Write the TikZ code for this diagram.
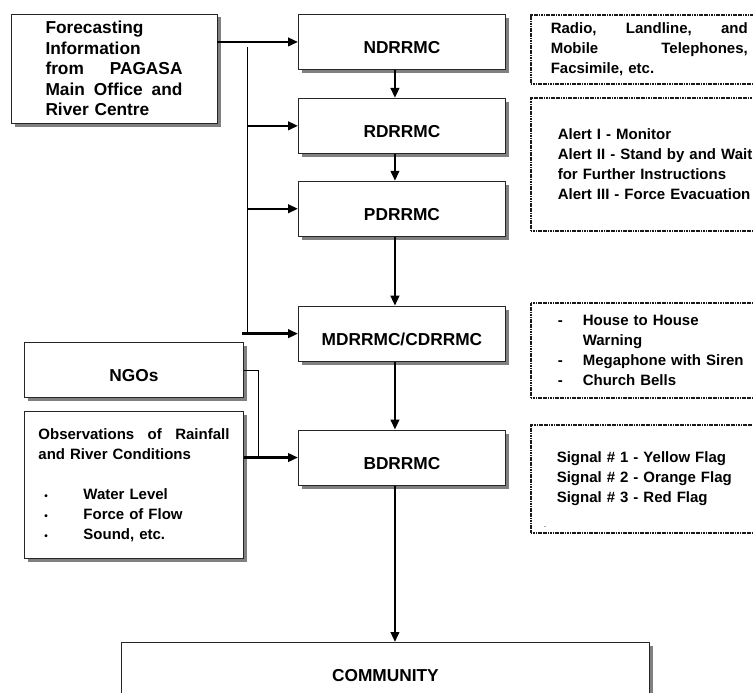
\documentclass[tikz,border=0pt]{standalone}
\usepackage{fontspec}
\setmainfont{Liberation Sans}
\usepackage{tikz}
\usetikzlibrary{positioning}
\usetikzlibrary{shadows}
\usetikzlibrary{arrows.meta}

\newcommand{\bigtxt}{\fontsize{17.3}{20.5}\selectfont\bfseries}
\newcommand{\smalltxt}{\fontsize{15}{20}\selectfont\bfseries}
\newcommand{\blt}{\makebox[39pt][l]{\fontsize{10}{10}\selectfont\textbullet}}

\begin{document}
\begin{tikzpicture}[x=1pt,y=-1pt,>={Triangle[length=10pt,width=8.5pt]},node distance=28pt,
                    box node/.style={rectangle,draw=black!85,line width=0.9pt,fill=white,
                      drop shadow={shadow xshift=3.5pt,shadow yshift=-3.5pt,fill=black!50,opacity=1}},
                    main node/.style={box node,minimum width=207pt,minimum height=55pt,inner sep=0pt,
                      text height=24pt,text depth=0pt,font=\bigtxt},
                    info node/.style={rectangle,draw=black!90,line width=1.6pt,dash pattern=on 1.2pt off 0.5pt,
                      anchor=north west,align=left,inner ysep=0pt,font=\smalltxt},
                    arr/.style={->,line width=2.4pt}]
  \useasboundingbox (0,0) rectangle (753,693);

  % centre column
  \node[main node,anchor=north west] (nd) at (298,14) {NDRRMC};
  \node[main node] (rd) [below=of nd] {RDRRMC};
  \node[main node] (pd) [below=27pt of rd] {PDRRMC};
  \node[main node] (md) [below=69pt of pd] {MDRRMC/CDRRMC};
  \node[main node] (bd) [below=68pt of md] {BDRRMC};
  \node[main node,minimum width=528pt,anchor=north west] (comm) at (121,642) {COMMUNITY};

  % left column
  \node[box node,minimum width=206pt,minimum height=109pt,text width=137pt,align=left,font=\bigtxt]
    (fcst) at (114,68.5) {Forecasting\\ Information\\ from\hfill PAGASA\\ Main\hfill Office\hfill and\\ River Centre};
  \node[main node,minimum width=219pt,anchor=north west] (ngo) at (24,342) {NGOs};
  \node[box node,minimum width=219pt,minimum height=147pt,text width=191pt,align=left,font=\smalltxt]
    (obs) [below=13pt of ngo] {Observations\hfill of\hfill Rainfall\\ and River Conditions\\[20pt]
      \hspace*{6pt}\blt Water Level\\
      \hspace*{6pt}\blt Force of Flow\\
      \hspace*{6pt}\blt Sound, etc.};

  % right column
  \node[info node,minimum height=69pt,text width=197pt,inner xsep=20pt] (inf1) at (530,14)
    {Radio,\hfill Landline,\hfill and\\ Mobile\hfill Telephones,\\ Facsimile, etc.};
  \node[info node,minimum height=133pt,text width=196pt,inner xsep=27pt] (inf2) at (530,97)
    {Alert I - Monitor\\ Alert II - Stand by and Wait\\ for Further Instructions\\ Alert III - Force Evacuation};
  \node[info node,minimum height=95pt,text width=200pt,inner xsep=27pt] (inf3) at (530,302)
    {\makebox[25pt][l]{-}House to House\\ \hspace*{25pt}Warning\\
     \makebox[25pt][l]{-}Megaphone with Siren\\ \makebox[25pt][l]{-}Church Bells};
  \node[info node,minimum height=108pt,text width=196pt,inner xsep=26pt] (inf4) at (530,424)
    {Signal \# 1 - Yellow Flag\\ Signal \# 2 - Orange Flag\\ Signal \# 3 - Red Flag};
  \node[font=\fontsize{6}{6}\selectfont,inner sep=0pt] (sigdash) at (545,528) {-};

  % connectors
  \coordinate (bustop) at (247,47);
  \coordinate (busbot) at (247,333);
  \draw[line width=0.9pt] (bustop) -- (busbot);
  \draw[line width=0.9pt] (ngo.east) -| ([xshift=15pt]obs.east |- bd.west);

  \path
    (fcst.east |- nd.west) edge[arr] (nd.west)
    (bustop |- rd.west) edge[arr] (rd.west)
    (bustop |- pd.west) edge[arr] (pd.west)
    ([xshift=-5pt]bustop |- md.west) edge[arr] (md.west)
    (obs.east |- bd.west) edge[arr] (bd.west)
    ([xshift=-7pt]nd.south) edge[arr] ([xshift=-7pt]rd.north)
    ([xshift=-7pt]rd.south) edge[arr] ([xshift=-7pt]pd.north)
    ([xshift=-7pt]pd.south) edge[arr] ([xshift=-7pt]md.north)
    ([xshift=-7pt]md.south) edge[arr] ([xshift=-7pt]bd.north)
    ([xshift=-7pt]bd.south) edge[arr] ([xshift=-7pt]bd.south |- comm.north);
\end{tikzpicture}
\end{document}
